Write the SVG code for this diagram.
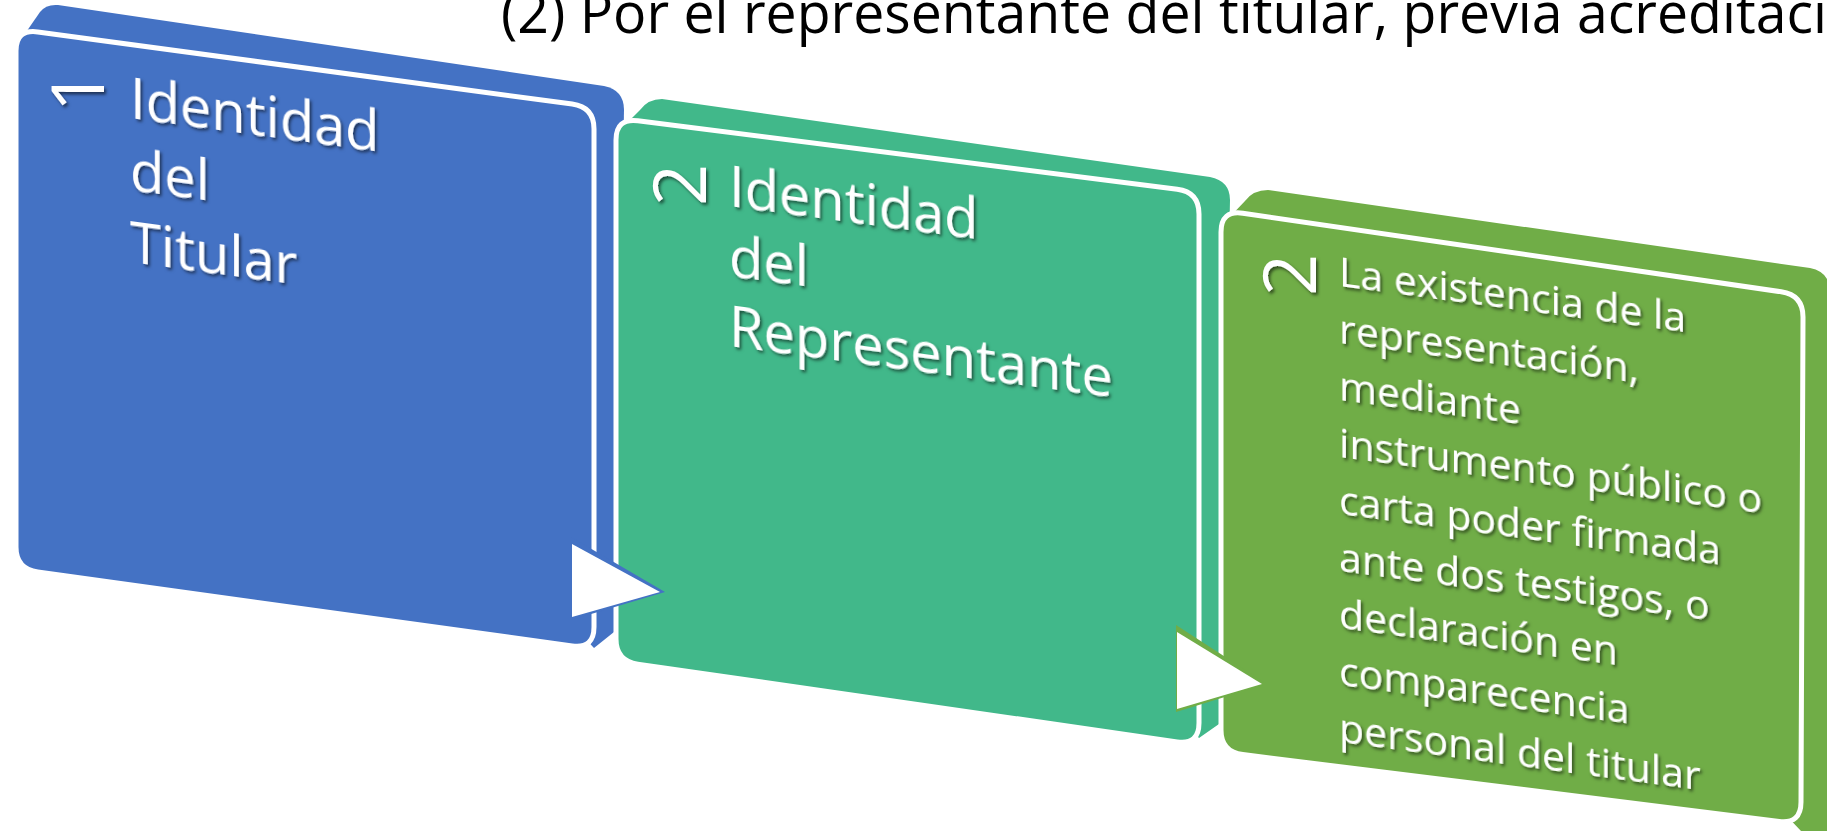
<svg xmlns="http://www.w3.org/2000/svg" width="1827" height="831" viewBox="0 0 1827 831">
<defs>
<filter id="ts" x="-10%" y="-10%" width="130%" height="140%">
<feDropShadow dx="2" dy="2.5" stdDeviation="1.5" flood-color="#000" flood-opacity="0.55"/>
</filter>
<style>
.front{stroke:#fff;stroke-width:5;stroke-linejoin:round}
.blue{fill:#4472C4}
.teal{fill:#41B88A}
.olive{fill:#70AD47}
.lbl{font-family:"Open Sans","Liberation Sans",sans-serif;fill:#fff}
.big{font-size:56px}
.small{font-size:41px}
.num{font-size:74px}
.title{font-family:"Open Sans","Liberation Sans",sans-serif;font-size:56px;fill:#000}
</style>
</defs>
<rect width="1827" height="831" fill="#fff"/>
<text class="title" x="501" y="33" textLength="1326" lengthAdjust="spacingAndGlyphs">(2) Por el representante del titular, previa acreditaci</text>

<g id="node-1">
<path class="blue" d="M22,38 L40,12 Q46,4 58,5 L604,86 Q624,90 624,110 L614,632 L594,648 Z"/>
<path class="blue front" d="M37.8,31.9 L572.2,104.1 Q594,107 594,129 L594,627 Q594,649 572.2,646 L37.8,572 Q16,569 16,547 L16,51 Q16,29 37.8,31.9 Z"/>
<g class="lbl" filter="url(#ts)">
<text class="num" transform="translate(104,112) rotate(-90)">1</text>
<g transform="translate(130,118) skewY(7.7)">
<text class="big" x="0" y="0">Identidad</text>
<text class="big" x="0" y="72">del</text>
<text class="big" x="0" y="144">Titular</text>
</g>
</g>
</g>

<g id="node-2">
<path class="teal" d="M620,130 L640,110 Q648,99 662,99 L1210,177 Q1230,181 1230,200 L1219,724 L1199,738 Z"/>
<path class="teal front" d="M637.8,120.8 L1177.2,189.2 Q1199,192 1199,214 L1199,723 Q1199,745 1177.2,741.9 L637.8,664.1 Q616,661 616,639 L616,140 Q616,118 637.8,120.8 Z"/>
<g class="lbl" filter="url(#ts)">
<text class="num" transform="translate(706,206) rotate(-90)">2</text>
<g transform="translate(729,206) skewY(7.6)">
<text class="big" x="0" y="0">Identidad</text>
<text class="big" x="0" y="70">del</text>
<text class="big" x="0" y="140">Representante</text>
</g>
</g>
</g>

<g id="node-3">
<path class="olive" d="M1225,222 L1245,201 Q1253,190 1268,190 L1810,268 Q1830,272 1830,292 L1830,831 L1801,831 Z"/>
<path class="olive front" d="M1242.8,213.2 L1781.2,291.8 Q1803,295 1803,317 L1801,802 Q1801,824 1779.2,821.4 L1242.8,754.6 Q1221,752 1221,730 L1221,232 Q1221,210 1242.8,213.2 Z"/>
<g class="lbl" filter="url(#ts)">
<text class="num" transform="translate(1316,296) rotate(-90)">2</text>
<g transform="translate(1339,286) skewY(7.6)">
<text class="small" x="0" y="0">La existencia de la</text>
<text class="small" x="0" y="57">representación,</text>
<text class="small" x="0" y="114">mediante</text>
<text class="small" x="0" y="171">instrumento público o</text>
<text class="small" x="0" y="228">carta poder firmada</text>
<text class="small" x="0" y="285">ante dos testigos, o</text>
<text class="small" x="0" y="342">declaración en</text>
<text class="small" x="0" y="399">comparecencia</text>
<text class="small" x="0" y="456">personal del titular</text>
</g>
</g>
</g>

<g id="connectors">
<polygon class="blue" points="571,537 571,620 665,592"/>
<polygon fill="#fff" points="572,544 572,617 660,592"/>
<polygon class="olive" points="1176,625 1176,712 1267,684"/>
<polygon fill="#fff" points="1177,632 1177,709 1262,684"/>
</g>
</svg>
